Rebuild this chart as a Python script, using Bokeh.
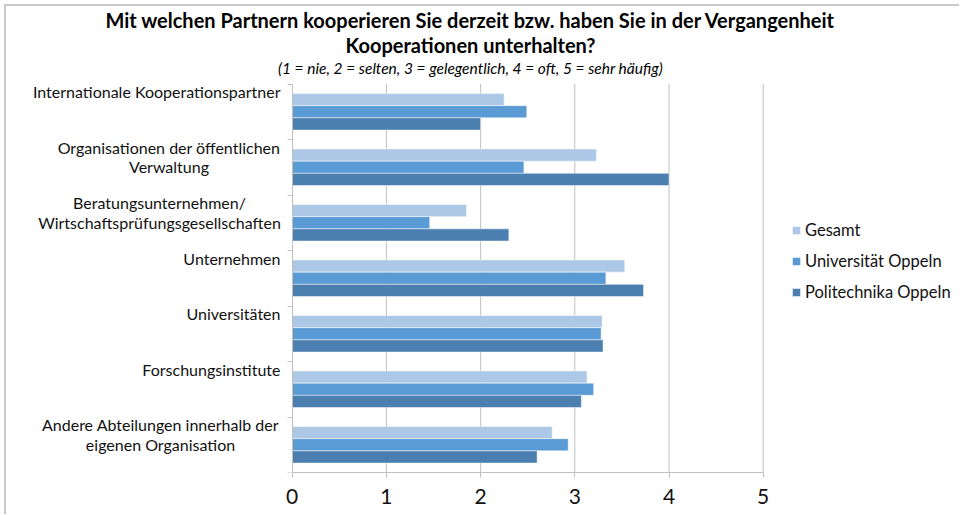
from bokeh.plotting import figure
from bokeh.models import Range1d, FixedTicker, Label, Legend, LegendItem, ColumnDataSource, LinearAxis
from bokeh.embed import file_html
from bokeh.resources import INLINE

# ---------------- data ----------------
categories = [
    "Internationale Kooperationspartner",
    "Organisationen der öffentlichen\nVerwaltung",
    "Beratungsunternehmen/\nWirtschaftsprüfungsgesellschaften",
    "Unternehmen",
    "Universitäten",
    "Forschungsinstitute",
    "Andere Abteilungen innerhalb der\neigenen Organisation",
]
series_names = ["Gesamt", "Universität Oppeln", "Politechnika Oppeln"]
gesamt = [2.25, 3.23, 1.85, 3.53, 3.29, 3.13, 2.76]
universitaet_oppeln = [2.49, 2.46, 1.46, 3.33, 3.28, 3.20, 2.93]
politechnika_oppeln = [2.00, 4.00, 2.30, 3.73, 3.30, 3.07, 2.60]
x_ticks = [0, 1, 2, 3, 4, 5]

title_line1 = "Mit welchen Partnern kooperieren Sie derzeit bzw. haben Sie in der Vergangenheit"
title_line2 = "Kooperationen unterhalten?"
subtitle = "(1 = nie, 2 = selten, 3 = gelegentlich, 4 = oft, 5 = sehr häufig)"

# ---------------- style / layout ----------------
colors = ["#adc8e7", "#5b9bd5", "#4a7fb0"]
FONT = "Lato"
n = len(categories)
bar_h = 0.22
offsets = [bar_h, 0.0, -bar_h]
grid_col = "#c0c0c0"

CANVAS_W, CANVAS_H = 953, 508
FRAME_H = 466
PX_X = 94.2          # pixels per value unit
PX_Y = 55.5          # pixels per category
AXIS_X0 = 285.7      # x=0 position inside the frame (px)
label_gap = 11.7
label_size = "16px"
first_line_widths = [0, 223, 242, 0, 0, 0, 240]   # widths of first lines used to centre 2-line labels

x_start = -AXIS_X0 / PX_X
x_end = x_start + CANVAS_W / PX_X
y_end = FRAME_H / PX_Y

p = figure(
    width=CANVAS_W, height=CANVAS_H,
    frame_width=CANVAS_W, frame_height=FRAME_H,
    min_border_left=0, min_border_right=0, min_border_top=0,
    min_border_bottom=CANVAS_H - FRAME_H,
    x_range=Range1d(x_start, x_end), y_range=Range1d(0, y_end),
    x_axis_location=None, y_axis_location=None,
    output_backend="svg", toolbar_location=None,
)
p.styles = {"margin-left": "4px", "margin-top": "4px",
            "border-top": "2px solid #c9c9c9", "border-left": "2px solid #c9c9c9"}
p.outline_line_color = None
p.background_fill_color = "white"
p.border_fill_color = "white"
p.xgrid.visible = False
p.ygrid.visible = False

# vertical grid lines from the tick values
p.segment(x0=x_ticks[1:], y0=[0] * (len(x_ticks) - 1), x1=x_ticks[1:], y1=[n] * (len(x_ticks) - 1),
          line_color=grid_col, line_width=1)

renderers = []
for vals, off, col in zip([gesamt, universitaet_oppeln, politechnika_oppeln], offsets, colors):
    src = ColumnDataSource(dict(
        y=[n - i - 0.5 + off for i in range(n)],
        right=vals,
    ))
    r = p.hbar(y="y", left=0, right="right", height=bar_h, source=src,
               fill_color=col, line_color="white", line_width=0.7, line_alpha=0.7)
    renderers.append(r)

# x axis
xaxis = LinearAxis(ticker=FixedTicker(ticks=x_ticks), bounds=(x_ticks[0], x_ticks[-1]))
xaxis.axis_line_color = grid_col
xaxis.major_tick_line_color = grid_col
xaxis.major_tick_out = 5
xaxis.major_tick_in = 0
xaxis.minor_tick_line_color = None
xaxis.major_label_text_font = FONT
xaxis.major_label_text_font_size = "21px"
xaxis.major_label_text_color = "#111111"
xaxis.major_label_standoff = 11
p.add_layout(xaxis, "below")

# y axis at x = 0
yaxis = LinearAxis(ticker=FixedTicker(ticks=list(range(n + 1))), bounds=(0, n), fixed_location=0)
yaxis.axis_line_color = grid_col
yaxis.major_tick_line_color = grid_col
yaxis.major_tick_out = 5
yaxis.major_tick_in = 0
yaxis.minor_tick_line_color = None
yaxis.major_label_text_color = None
p.add_layout(yaxis, "left")

# category labels (top-anchored in each band, like the original)
for i, cat in enumerate(categories):
    lines = cat.split("\n")
    for j, line in enumerate(lines):
        if len(lines) == 1:
            align, xo = "right", -label_gap
        else:
            align, xo = "center", -(label_gap + first_line_widths[i] / 2)
        p.add_layout(Label(
            x=0, y=n - i, x_offset=xo, y_offset=-(7.8 + 19.3 * j),
            text=line, text_align=align, text_baseline="alphabetic",
            text_font=FONT, text_font_size=label_size, text_color="#111111",
        ))

# titles (screen units measured from the frame's bottom-left)
title_x = 464
for txt, base_y, style, size in [
    (title_line1, 19, "bold", "20px"),
    (title_line2, 44, "bold", "20px"),
    (subtitle, 67, "italic", "15.5px"),
]:
    p.add_layout(Label(x=title_x, y=FRAME_H - base_y + 6, x_units="screen", y_units="screen",
                       text=txt, text_align="center", text_baseline="alphabetic",
                       text_font=FONT, text_font_style=style,
                       text_font_size=size, text_color="black"))

legend = Legend(
    items=[LegendItem(label=s, renderers=[r]) for s, r in zip(series_names, renderers)],
    location=(785, 170),
    margin=0, padding=0, spacing=11,
    glyph_width=10, glyph_height=10, label_standoff=4, label_height=20,
    label_text_font=FONT, label_text_font_size="16.5px", label_text_color="#111111",
    border_line_color=None, background_fill_alpha=0,
)
p.add_layout(legend)

open("out.html", "w").write(file_html(p, INLINE))
